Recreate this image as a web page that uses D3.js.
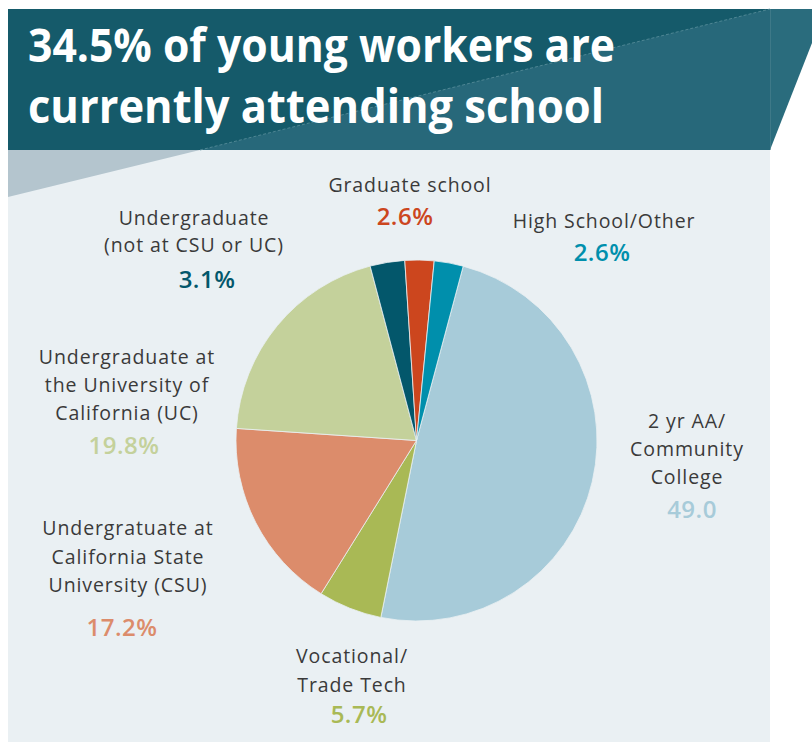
<!DOCTYPE html>
<html><head><meta charset="utf-8">
<script src="https://cdn.jsdelivr.net/npm/d3@7"></script>
<style>
html,body{margin:0;padding:0;background:#fff;}
svg{display:block;}
</style></head>
<body>
<svg id="chart" width="812" height="742"></svg>
<script>
// ---- data ----
const categories = [
  "2 yr AA/ Community College",
  "Vocational/ Trade Tech",
  "Undergratuate at California State University (CSU)",
  "Undergraduate at the University of California (UC)",
  "Undergraduate (not at CSU or UC)",
  "Graduate school",
  "High School/Other"
];
const labelLines = [
  ["2 yr AA/", "Community", "College"],
  ["Vocational/", "Trade Tech"],
  ["Undergratuate at", "California State", "University (CSU)"],
  ["Undergraduate at", "the University of", "California (UC)"],
  ["Undergraduate", "(not at CSU or UC)"],
  ["Graduate school"],
  ["High School/Other"]
];
const values = [49.0, 5.7, 17.2, 19.8, 3.1, 2.6, 2.6];
const valueLabels = ["49.0", "5.7%", "17.2%", "19.8%", "3.1%", "2.6%", "2.6%"];
const colors = ["#a7cbd9", "#a9b955", "#dc8c6b", "#c4d19b", "#03576b", "#cc461e", "#008fac"];
const titleLines = ["34.5% of young workers are", "currently attending school"];

// ---- layout (positions only) ----
const labelLayout = [
  {x: 687, y: 428, dy: 28, vx: 692, vy: 518},
  {x: 352, y: 663, dy: 29, vx: 359, vy: 723},
  {x: 128, y: 535, dy: 28.5, vx: 122, vy: 636},
  {x: 127, y: 364, dy: 28, vx: 124, vy: 454},
  {x: 194, y: 225, dy: 27, vx: 207, vy: 288},
  {x: 410, y: 192, dy: 28, vx: 405, vy: 225},
  {x: 604, y: 228, dy: 28, vx: 602, vy: 261}
];

const svg = d3.select("#chart");

// panel background
svg.append("rect").attr("x", 8).attr("y", 150).attr("width", 762).attr("height", 592).attr("fill", "#eaf0f3");
// gray triangle below header
svg.append("path").attr("d", "M8,150 L200,150 L8,197 Z").attr("fill", "#b4c5ce");
// header
svg.append("rect").attr("x", 8).attr("y", 9).attr("width", 762).attr("height", 141).attr("fill", "#155a6a");
svg.append("path").attr("d", "M770,9 L770,150 L200,150 Z").attr("fill", "#27687a");
svg.append("line").attr("x1", 200).attr("y1", 150).attr("x2", 770).attr("y2", 9)
  .attr("stroke", "#5a8f9c").attr("stroke-width", 0.8).attr("stroke-dasharray", "3,2");
svg.append("path").attr("d", "M770,9 L812,9 L812,43 L770,150 Z").attr("fill", "#2a6c7d");
svg.append("line").attr("x1", 770.5).attr("y1", 9).attr("x2", 770.5).attr("y2", 150)
  .attr("stroke", "#4c8391").attr("stroke-width", 0.6);

// title
svg.selectAll("text.title").data(titleLines).join("text")
  .attr("class", "title")
  .attr("x", 28).attr("y", (d, i) => 62 + i * 61)
  .attr("fill", "#fff")
  .attr("font-family", "'Open Sans', sans-serif")
  .attr("font-weight", 700)
  .attr("font-size", 47)
  .attr("textLength", (d, i) => i === 0 ? 587 : 576)
  .attr("lengthAdjust", "spacingAndGlyphs")
  .text(d => d);

// pie
const cx = 416.5, cy = 440.5, R = 180.5;
const start = 15 * Math.PI / 180;
const pie = d3.pie().sort(null).value(d => d).startAngle(start).endAngle(start + 2 * Math.PI);
const arc = d3.arc().innerRadius(0).outerRadius(R);
const g = svg.append("g").attr("transform", `translate(${cx},${cy})`);
g.selectAll("path").data(pie(values)).join("path")
  .attr("d", arc)
  .attr("fill", (d, i) => colors[i])
  .attr("stroke", "#eaf0f3").attr("stroke-width", 0.8);

// labels
categories.forEach((c, i) => {
  const L = labelLayout[i];
  const t = svg.append("text")
    .attr("text-anchor", "middle")
    .attr("font-family", "'Open Sans', sans-serif")
    .attr("font-size", 19.5)
    .attr("font-weight", 500)
    .attr("fill", "#3a3a3a")
    .attr("letter-spacing", 0.9);
  labelLines[i].forEach((line, j) => {
    t.append("tspan").attr("x", L.x).attr("y", L.y + j * L.dy).text(line);
  });
  svg.append("text")
    .attr("text-anchor", "middle")
    .attr("x", L.vx)
    .attr("y", L.vy)
    .attr("font-family", "'Open Sans', sans-serif")
    .attr("font-size", 24)
    .attr("font-weight", 600)
    .attr("letter-spacing", 0.5)
    .attr("fill", colors[i])
    .text(valueLabels[i]);
});
</script>
</body></html>
